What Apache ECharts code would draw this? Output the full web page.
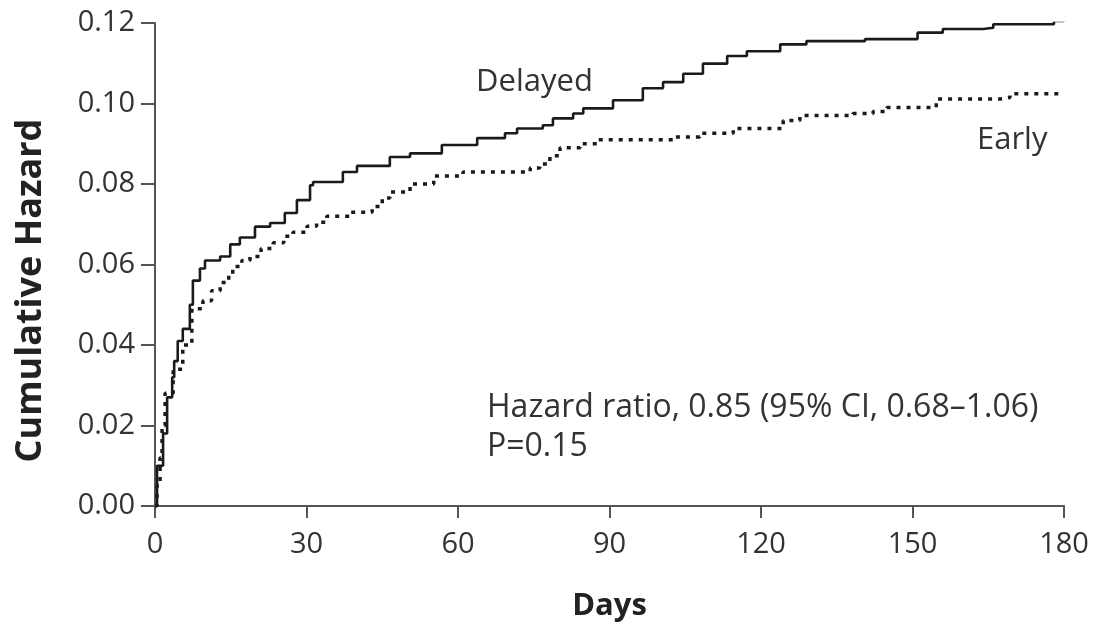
<!DOCTYPE html>
<html>
<head>
<meta charset="utf-8">
<script src="https://cdn.jsdelivr.net/npm/echarts@6/dist/echarts.min.js"></script>
<style>html,body{margin:0;padding:0;background:#fff}#c{width:1093px;height:627px}</style>
</head>
<body>
<div id="c"></div>
<script>
const xTicks = [0, 30, 60, 90, 120, 150, 180];
const yTicks = [0, 0.02, 0.04, 0.06, 0.08, 0.10, 0.12];

const delayedDays = [0, 0.4, 1.6, 2.4, 3.4, 3.8, 4.5, 5.5, 6.9, 7.5, 8.9, 9.9, 12.9, 14.9, 16.8, 19.8, 22.8, 25.7, 28.1, 30.7, 31.3, 37.2, 40, 46.5, 50.5, 56.8, 63.8, 69.3, 71.7, 76.8, 78.8, 82.8, 84.8, 90.7, 96.6, 100.6, 104.6, 108.5, 113.3, 117.2, 123.8, 129, 140.6, 151, 156, 164, 166, 178, 180];
const delayedHazard = [0, 0.010, 0.018, 0.027, 0.032, 0.036, 0.041, 0.044, 0.050, 0.056, 0.059, 0.061, 0.062, 0.065, 0.0667, 0.0694, 0.0703, 0.0728, 0.076, 0.0797, 0.0805, 0.083, 0.0845, 0.0867, 0.0876, 0.0897, 0.0914, 0.0926, 0.0938, 0.0946, 0.0963, 0.0975, 0.0988, 0.1008, 0.1038, 0.1053, 0.1074, 0.1099, 0.1118, 0.113, 0.1147, 0.1155, 0.116, 0.1176, 0.1185, 0.1188, 0.1197, 0.1205, 0.121];

const earlyDays = [0, 0.4, 1, 1.4, 2, 3.6, 5.5, 7.3, 9.5, 11.2, 12.9, 14.6, 15.4, 17.2, 18.8, 21, 23.4, 25.5, 27.3, 30.1, 32, 34, 38.6, 43, 45, 46.5, 50.5, 55.2, 61, 74.3, 76.2, 78.2, 80.2, 84.2, 87.5, 102.6, 107.9, 114.5, 124.4, 127.7, 138.2, 142.2, 144.9, 154.7, 167.3, 169.3, 179.5];
const earlyHazard = [0, 0.005, 0.012, 0.020, 0.028, 0.034, 0.040, 0.049, 0.051, 0.0535, 0.0555, 0.0575, 0.0595, 0.061, 0.062, 0.064, 0.0654, 0.067, 0.068, 0.0695, 0.0705, 0.072, 0.073, 0.0744, 0.0765, 0.078, 0.080, 0.082, 0.083, 0.084, 0.085, 0.087, 0.089, 0.090, 0.091, 0.0917, 0.0926, 0.0938, 0.0958, 0.097, 0.0975, 0.098, 0.099, 0.1011, 0.1015, 0.1024, 0.1024];

const seriesNames = ['Delayed', 'Early'];
const statLines = ['Hazard ratio, 0.85 (95% CI, 0.68\u20131.06)', 'P=0.15'];

const zip = (xs, ys) => xs.map((x, i) => [x, ys[i]]);
const FONT = '"Open Sans", "DejaVu Sans", sans-serif';
const axisCol = '#555';
const textCol = '#333';

const chart = echarts.init(document.getElementById('c'), null, {renderer: 'canvas'});
chart.setOption({
  animation: false,
  backgroundColor: '#fff',
  grid: {left: 155, right: 29, top: 23, bottom: 119, containLabel: false},
  xAxis: {
    type: 'value', min: 0, max: 180, interval: 30,
    name: 'Days', nameLocation: 'middle', nameGap: 85,
    nameTextStyle: {fontFamily: FONT, fontSize: 31, fontWeight: 'bold', color: '#222'},
    axisLine: {show: true, onZero: false, lineStyle: {color: axisCol, width: 2}},
    axisTick: {show: true, length: 12, lineStyle: {color: axisCol, width: 2}},
    axisLabel: {fontFamily: FONT, fontSize: 29, color: textCol, margin: 24,
      formatter: v => xTicks.includes(v) ? String(v) : ''},
    splitLine: {show: false}
  },
  yAxis: {
    type: 'value', min: 0, max: 0.12, interval: 0.02,
    name: 'Cumulative Hazard', nameLocation: 'middle', nameGap: 106,
    nameTextStyle: {fontFamily: FONT, fontSize: 36, fontWeight: 'bold', color: '#222', padding: [0, 52, 0, 0]},
    axisLine: {show: true, lineStyle: {color: axisCol, width: 2}},
    axisTick: {show: true, length: 14, lineStyle: {color: axisCol, width: 2}},
    axisLabel: {fontFamily: FONT, fontSize: 29, color: textCol, margin: 20,
      formatter: v => { const t = yTicks.find(y => Math.abs(y - v) < 1e-9); return t === undefined ? '' : t.toFixed(2); }},
    splitLine: {show: false}
  },
  series: [
    {
      name: seriesNames[0], type: 'line', step: 'end', symbol: 'none',
      data: zip(delayedDays, delayedHazard),
      lineStyle: {color: '#1a1a1a', width: 2.6}
    },
    {
      name: seriesNames[1], type: 'line', step: 'end', symbol: 'none',
      data: zip(earlyDays, earlyHazard),
      lineStyle: {color: '#1a1a1a', width: 3.5, type: [4, 6], cap: 'butt'}
    }
  ],
  graphic: [
    {type: 'text', x: 476, y: 82, style: {text: seriesNames[0], font: '31px ' + FONT, fill: textCol, verticalAlign: 'middle'}},
    {type: 'text', x: 977, y: 140, style: {text: seriesNames[1], font: '31px ' + FONT, fill: textCol, verticalAlign: 'middle'}},
    {type: 'text', x: 487, y: 408, style: {text: statLines[0], font: '32px ' + FONT, fill: textCol, verticalAlign: 'middle'}},
    {type: 'text', x: 487, y: 447, style: {text: statLines[1], font: '32px ' + FONT, fill: textCol, verticalAlign: 'middle'}}
  ]
});
</script>
</body>
</html>
